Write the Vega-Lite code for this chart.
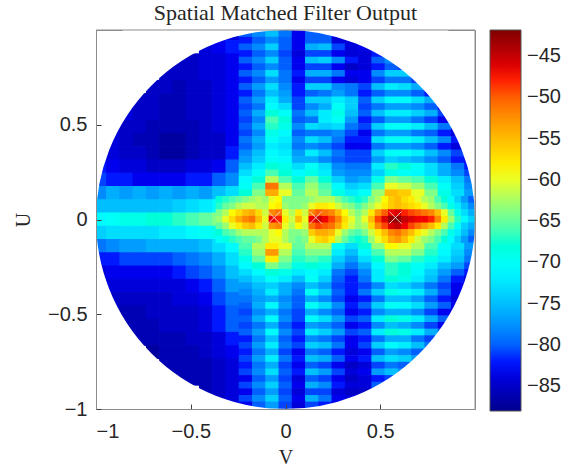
{"$schema":"https://vega.github.io/schema/vega-lite/v6.json","autosize":"none","width":379,"height":379,"padding":{"left":96,"top":30,"right":101,"bottom":59},"background":"white",
"title":{"text":"Spatial Matched Filter Output","font":"Liberation Serif","fontSize":22,"fontWeight":"normal","color":"#262626","offset":5,"anchor":"middle"},
"config":{"view":{"stroke":"#8c8c8c","strokeWidth":1}},
"datasets":{
"coarse":[
{"v":-0.28,"u":0.98,"z":-84},
{"v":-0.42,"u":0.91,"z":-84},{"v":-0.35,"u":0.91,"z":-83},{"v":-0.28,"u":0.91,"z":-82},
{"v":-0.56,"u":0.84,"z":-85},{"v":-0.49,"u":0.84,"z":-85},{"v":-0.42,"u":0.84,"z":-84},{"v":-0.35,"u":0.84,"z":-84},{"v":-0.28,"u":0.84,"z":-83},
{"v":-0.63,"u":0.77,"z":-85},{"v":-0.56,"u":0.77,"z":-85},{"v":-0.49,"u":0.77,"z":-85},{"v":-0.42,"u":0.77,"z":-84},{"v":-0.35,"u":0.77,"z":-84},{"v":-0.28,"u":0.77,"z":-83},
{"v":-0.70,"u":0.70,"z":-85},{"v":-0.63,"u":0.70,"z":-85},{"v":-0.56,"u":0.70,"z":-86},{"v":-0.49,"u":0.70,"z":-85},{"v":-0.42,"u":0.70,"z":-85},{"v":-0.35,"u":0.70,"z":-84},{"v":-0.28,"u":0.70,"z":-83},
{"v":-0.77,"u":0.63,"z":-85},{"v":-0.70,"u":0.63,"z":-85},{"v":-0.63,"u":0.63,"z":-86},{"v":-0.56,"u":0.63,"z":-86},{"v":-0.49,"u":0.63,"z":-85},{"v":-0.42,"u":0.63,"z":-85},{"v":-0.35,"u":0.63,"z":-84},{"v":-0.28,"u":0.63,"z":-83},
{"v":-0.84,"u":0.56,"z":-84},{"v":-0.77,"u":0.56,"z":-85},{"v":-0.70,"u":0.56,"z":-85},{"v":-0.63,"u":0.56,"z":-86},{"v":-0.56,"u":0.56,"z":-86},{"v":-0.49,"u":0.56,"z":-85},{"v":-0.42,"u":0.56,"z":-85},{"v":-0.35,"u":0.56,"z":-84},{"v":-0.28,"u":0.56,"z":-83},
{"v":-0.91,"u":0.49,"z":-84},{"v":-0.84,"u":0.49,"z":-85},{"v":-0.77,"u":0.49,"z":-85},{"v":-0.70,"u":0.49,"z":-86},{"v":-0.63,"u":0.49,"z":-86},{"v":-0.56,"u":0.49,"z":-86},{"v":-0.49,"u":0.49,"z":-86},{"v":-0.42,"u":0.49,"z":-85},{"v":-0.35,"u":0.49,"z":-84},{"v":-0.28,"u":0.49,"z":-83},
{"v":-0.91,"u":0.42,"z":-84},{"v":-0.84,"u":0.42,"z":-85},{"v":-0.77,"u":0.42,"z":-86},{"v":-0.70,"u":0.42,"z":-86},{"v":-0.63,"u":0.42,"z":-87},{"v":-0.56,"u":0.42,"z":-87},{"v":-0.49,"u":0.42,"z":-86},{"v":-0.42,"u":0.42,"z":-85},{"v":-0.35,"u":0.42,"z":-85},{"v":-0.28,"u":0.42,"z":-83},
{"v":-0.91,"u":0.35,"z":-84},{"v":-0.84,"u":0.35,"z":-85},{"v":-0.77,"u":0.35,"z":-85},{"v":-0.70,"u":0.35,"z":-86},{"v":-0.63,"u":0.35,"z":-87},{"v":-0.56,"u":0.35,"z":-87},{"v":-0.49,"u":0.35,"z":-86},{"v":-0.42,"u":0.35,"z":-85},{"v":-0.35,"u":0.35,"z":-85},{"v":-0.28,"u":0.35,"z":-82},
{"v":-0.98,"u":0.28,"z":-82},{"v":-0.91,"u":0.28,"z":-83},{"v":-0.84,"u":0.28,"z":-84},{"v":-0.77,"u":0.28,"z":-84},{"v":-0.70,"u":0.28,"z":-85},{"v":-0.63,"u":0.28,"z":-85},{"v":-0.56,"u":0.28,"z":-85},{"v":-0.49,"u":0.28,"z":-84},{"v":-0.42,"u":0.28,"z":-84},{"v":-0.35,"u":0.28,"z":-83},{"v":-0.28,"u":0.28,"z":-80},
{"v":-0.98,"u":0.21,"z":-81},{"v":-0.91,"u":0.21,"z":-82},{"v":-0.84,"u":0.21,"z":-82},{"v":-0.77,"u":0.21,"z":-83},{"v":-0.70,"u":0.21,"z":-83},{"v":-0.63,"u":0.21,"z":-83},{"v":-0.56,"u":0.21,"z":-83},{"v":-0.49,"u":0.21,"z":-82},{"v":-0.42,"u":0.21,"z":-82},{"v":-0.35,"u":0.21,"z":-80},{"v":-0.28,"u":0.21,"z":-78},
{"v":-0.98,"u":0.14,"z":-78},{"v":-0.91,"u":0.14,"z":-76},{"v":-0.84,"u":0.14,"z":-77},{"v":-0.77,"u":0.14,"z":-76},{"v":-0.70,"u":0.14,"z":-77},{"v":-0.63,"u":0.14,"z":-76},{"v":-0.56,"u":0.14,"z":-77},{"v":-0.49,"u":0.14,"z":-76},{"v":-0.42,"u":0.14,"z":-77},{"v":-0.35,"u":0.14,"z":-75},{"v":-0.28,"u":0.14,"z":-73},
{"v":-0.98,"u":0.07,"z":-75},{"v":-0.91,"u":0.07,"z":-75},{"v":-0.84,"u":0.07,"z":-75},{"v":-0.77,"u":0.07,"z":-75},{"v":-0.70,"u":0.07,"z":-75},{"v":-0.63,"u":0.07,"z":-75},{"v":-0.56,"u":0.07,"z":-74},{"v":-0.49,"u":0.07,"z":-73},{"v":-0.42,"u":0.07,"z":-72},{"v":-0.35,"u":0.07,"z":-71},{"v":-0.28,"u":0.07,"z":-69},
{"v":-0.98,"u":0,"z":-71},{"v":-0.91,"u":0,"z":-70},{"v":-0.84,"u":0,"z":-69},{"v":-0.77,"u":0,"z":-69},{"v":-0.70,"u":0,"z":-68},{"v":-0.63,"u":0,"z":-68},{"v":-0.56,"u":0,"z":-67},{"v":-0.49,"u":0,"z":-66},{"v":-0.42,"u":0,"z":-65},{"v":-0.35,"u":0,"z":-64},{"v":-0.28,"u":0,"z":-63},
{"v":-0.98,"u":-0.07,"z":-74},{"v":-0.91,"u":-0.07,"z":-73},{"v":-0.84,"u":-0.07,"z":-73},{"v":-0.77,"u":-0.07,"z":-73},{"v":-0.70,"u":-0.07,"z":-73},{"v":-0.63,"u":-0.07,"z":-72},{"v":-0.56,"u":-0.07,"z":-72},{"v":-0.49,"u":-0.07,"z":-71},{"v":-0.42,"u":-0.07,"z":-70},{"v":-0.35,"u":-0.07,"z":-69},{"v":-0.28,"u":-0.07,"z":-67},
{"v":-0.98,"u":-0.14,"z":-79},{"v":-0.91,"u":-0.14,"z":-78},{"v":-0.84,"u":-0.14,"z":-77},{"v":-0.77,"u":-0.14,"z":-77},{"v":-0.70,"u":-0.14,"z":-76},{"v":-0.63,"u":-0.14,"z":-76},{"v":-0.56,"u":-0.14,"z":-76},{"v":-0.49,"u":-0.14,"z":-76},{"v":-0.42,"u":-0.14,"z":-75},{"v":-0.35,"u":-0.14,"z":-73},{"v":-0.28,"u":-0.14,"z":-71},
{"v":-0.98,"u":-0.21,"z":-82},{"v":-0.91,"u":-0.21,"z":-82},{"v":-0.84,"u":-0.21,"z":-81},{"v":-0.77,"u":-0.21,"z":-81},{"v":-0.70,"u":-0.21,"z":-81},{"v":-0.63,"u":-0.21,"z":-81},{"v":-0.56,"u":-0.21,"z":-80},{"v":-0.49,"u":-0.21,"z":-79},{"v":-0.42,"u":-0.21,"z":-78},{"v":-0.35,"u":-0.21,"z":-76},{"v":-0.28,"u":-0.21,"z":-73},
{"v":-0.98,"u":-0.28,"z":-84},{"v":-0.91,"u":-0.28,"z":-83},{"v":-0.84,"u":-0.28,"z":-83},{"v":-0.77,"u":-0.28,"z":-83},{"v":-0.70,"u":-0.28,"z":-83},{"v":-0.63,"u":-0.28,"z":-83},{"v":-0.56,"u":-0.28,"z":-82},{"v":-0.49,"u":-0.28,"z":-81},{"v":-0.42,"u":-0.28,"z":-80},{"v":-0.35,"u":-0.28,"z":-78},{"v":-0.28,"u":-0.28,"z":-75},
{"v":-0.91,"u":-0.35,"z":-84},{"v":-0.84,"u":-0.35,"z":-84},{"v":-0.77,"u":-0.35,"z":-84},{"v":-0.70,"u":-0.35,"z":-84},{"v":-0.63,"u":-0.35,"z":-84},{"v":-0.56,"u":-0.35,"z":-84},{"v":-0.49,"u":-0.35,"z":-83},{"v":-0.42,"u":-0.35,"z":-82},{"v":-0.35,"u":-0.35,"z":-80},{"v":-0.28,"u":-0.35,"z":-77},
{"v":-0.91,"u":-0.42,"z":-85},{"v":-0.84,"u":-0.42,"z":-85},{"v":-0.77,"u":-0.42,"z":-85},{"v":-0.70,"u":-0.42,"z":-85},{"v":-0.63,"u":-0.42,"z":-85},{"v":-0.56,"u":-0.42,"z":-84},{"v":-0.49,"u":-0.42,"z":-84},{"v":-0.42,"u":-0.42,"z":-83},{"v":-0.35,"u":-0.42,"z":-81},{"v":-0.28,"u":-0.42,"z":-79},
{"v":-0.91,"u":-0.49,"z":-85},{"v":-0.84,"u":-0.49,"z":-86},{"v":-0.77,"u":-0.49,"z":-86},{"v":-0.70,"u":-0.49,"z":-85},{"v":-0.63,"u":-0.49,"z":-85},{"v":-0.56,"u":-0.49,"z":-85},{"v":-0.49,"u":-0.49,"z":-85},{"v":-0.42,"u":-0.49,"z":-84},{"v":-0.35,"u":-0.49,"z":-82},{"v":-0.28,"u":-0.49,"z":-80},
{"v":-0.84,"u":-0.56,"z":-86},{"v":-0.77,"u":-0.56,"z":-86},{"v":-0.70,"u":-0.56,"z":-86},{"v":-0.63,"u":-0.56,"z":-85},{"v":-0.56,"u":-0.56,"z":-85},{"v":-0.49,"u":-0.56,"z":-85},{"v":-0.42,"u":-0.56,"z":-84},{"v":-0.35,"u":-0.56,"z":-82},{"v":-0.28,"u":-0.56,"z":-80},
{"v":-0.77,"u":-0.63,"z":-86},{"v":-0.70,"u":-0.63,"z":-86},{"v":-0.63,"u":-0.63,"z":-86},{"v":-0.56,"u":-0.63,"z":-86},{"v":-0.49,"u":-0.63,"z":-85},{"v":-0.42,"u":-0.63,"z":-85},{"v":-0.35,"u":-0.63,"z":-84},{"v":-0.28,"u":-0.63,"z":-82},
{"v":-0.70,"u":-0.70,"z":-87},{"v":-0.63,"u":-0.70,"z":-86},{"v":-0.56,"u":-0.70,"z":-86},{"v":-0.49,"u":-0.70,"z":-86},{"v":-0.42,"u":-0.70,"z":-85},{"v":-0.35,"u":-0.70,"z":-84},{"v":-0.28,"u":-0.70,"z":-83},
{"v":-0.63,"u":-0.77,"z":-86},{"v":-0.56,"u":-0.77,"z":-86},{"v":-0.49,"u":-0.77,"z":-86},{"v":-0.42,"u":-0.77,"z":-86},{"v":-0.35,"u":-0.77,"z":-85},{"v":-0.28,"u":-0.77,"z":-84},
{"v":-0.56,"u":-0.84,"z":-86},{"v":-0.49,"u":-0.84,"z":-86},{"v":-0.42,"u":-0.84,"z":-86},{"v":-0.35,"u":-0.84,"z":-85},{"v":-0.28,"u":-0.84,"z":-84},
{"v":-0.42,"u":-0.91,"z":-86},{"v":-0.35,"u":-0.91,"z":-85},{"v":-0.28,"u":-0.91,"z":-84},
{"v":-0.28,"u":-0.98,"z":-84}
],
"striped":[
{"v":-0.21,"u":0.98,"z":-80},{"v":-0.14,"u":0.98,"z":-78},{"v":-0.07,"u":0.98,"z":-75},{"v":0,"u":0.98,"z":-79},{"v":0.07,"u":0.98,"z":-83},{"v":0.14,"u":0.98,"z":-80},{"v":0.21,"u":0.98,"z":-80},{"v":0.28,"u":0.98,"z":-83},
{"v":-0.21,"u":0.945,"z":-82},{"v":-0.14,"u":0.945,"z":-80},{"v":-0.07,"u":0.945,"z":-78},{"v":0,"u":0.945,"z":-80},{"v":0.07,"u":0.945,"z":-83},{"v":0.14,"u":0.945,"z":-80},{"v":0.21,"u":0.945,"z":-80},{"v":0.28,"u":0.945,"z":-84},{"v":0.35,"u":0.945,"z":-84},
{"v":-0.21,"u":0.91,"z":-80},{"v":-0.14,"u":0.91,"z":-78},{"v":-0.07,"u":0.91,"z":-74},{"v":0,"u":0.91,"z":-80},{"v":0.07,"u":0.91,"z":-83},{"v":0.14,"u":0.91,"z":-76},{"v":0.21,"u":0.91,"z":-75},{"v":0.28,"u":0.91,"z":-81},{"v":0.35,"u":0.91,"z":-84},{"v":0.42,"u":0.91,"z":-83},
{"v":-0.21,"u":0.875,"z":-82},{"v":-0.14,"u":0.875,"z":-80},{"v":-0.07,"u":0.875,"z":-78},{"v":0,"u":0.875,"z":-81},{"v":0.07,"u":0.875,"z":-84},{"v":0.14,"u":0.875,"z":-81},{"v":0.21,"u":0.875,"z":-81},{"v":0.28,"u":0.875,"z":-83},{"v":0.35,"u":0.875,"z":-84},{"v":0.42,"u":0.875,"z":-84},{"v":0.49,"u":0.875,"z":-82},
{"v":-0.21,"u":0.84,"z":-80},{"v":-0.14,"u":0.84,"z":-78},{"v":-0.07,"u":0.84,"z":-74},{"v":0,"u":0.84,"z":-80},{"v":0.07,"u":0.84,"z":-83},{"v":0.14,"u":0.84,"z":-75},{"v":0.21,"u":0.84,"z":-74},{"v":0.28,"u":0.84,"z":-78},{"v":0.35,"u":0.84,"z":-82},{"v":0.42,"u":0.84,"z":-84},{"v":0.49,"u":0.84,"z":-80},{"v":0.56,"u":0.84,"z":-78},
{"v":-0.21,"u":0.805,"z":-82},{"v":-0.14,"u":0.805,"z":-80},{"v":-0.07,"u":0.805,"z":-78},{"v":0,"u":0.805,"z":-80},{"v":0.07,"u":0.805,"z":-83},{"v":0.14,"u":0.805,"z":-81},{"v":0.21,"u":0.805,"z":-81},{"v":0.28,"u":0.805,"z":-83},{"v":0.35,"u":0.805,"z":-85},{"v":0.42,"u":0.805,"z":-84},{"v":0.49,"u":0.805,"z":-82},{"v":0.56,"u":0.805,"z":-80},{"v":0.63,"u":0.805,"z":-81},
{"v":-0.21,"u":0.77,"z":-80},{"v":-0.14,"u":0.77,"z":-78},{"v":-0.07,"u":0.77,"z":-73},{"v":0,"u":0.77,"z":-79},{"v":0.07,"u":0.77,"z":-82},{"v":0.14,"u":0.77,"z":-76},{"v":0.21,"u":0.77,"z":-76},{"v":0.28,"u":0.77,"z":-79},{"v":0.35,"u":0.77,"z":-83},{"v":0.42,"u":0.77,"z":-83},{"v":0.49,"u":0.77,"z":-78},{"v":0.56,"u":0.77,"z":-74},{"v":0.63,"u":0.77,"z":-74},
{"v":-0.21,"u":0.735,"z":-82},{"v":-0.14,"u":0.735,"z":-80},{"v":-0.07,"u":0.735,"z":-77},{"v":0,"u":0.735,"z":-79},{"v":0.07,"u":0.735,"z":-83},{"v":0.14,"u":0.735,"z":-81},{"v":0.21,"u":0.735,"z":-81},{"v":0.28,"u":0.735,"z":-83},{"v":0.35,"u":0.735,"z":-84},{"v":0.42,"u":0.735,"z":-83},{"v":0.49,"u":0.735,"z":-81},{"v":0.56,"u":0.735,"z":-79},{"v":0.63,"u":0.735,"z":-79},{"v":0.70,"u":0.735,"z":-81},
{"v":-0.21,"u":0.70,"z":-80},{"v":-0.14,"u":0.70,"z":-77},{"v":-0.07,"u":0.70,"z":-73},{"v":0,"u":0.70,"z":-78},{"v":0.07,"u":0.70,"z":-82},{"v":0.14,"u":0.70,"z":-74},{"v":0.21,"u":0.70,"z":-74},{"v":0.28,"u":0.70,"z":-78},{"v":0.35,"u":0.70,"z":-79},{"v":0.42,"u":0.70,"z":-81},{"v":0.49,"u":0.70,"z":-75},{"v":0.56,"u":0.70,"z":-72},{"v":0.63,"u":0.70,"z":-73},{"v":0.70,"u":0.70,"z":-76},
{"v":-0.21,"u":0.665,"z":-82},{"v":-0.14,"u":0.665,"z":-79},{"v":-0.07,"u":0.665,"z":-75},{"v":0,"u":0.665,"z":-77},{"v":0.07,"u":0.665,"z":-82},{"v":0.14,"u":0.665,"z":-80},{"v":0.21,"u":0.665,"z":-79},{"v":0.28,"u":0.665,"z":-77},{"v":0.35,"u":0.665,"z":-79},{"v":0.42,"u":0.665,"z":-82},{"v":0.49,"u":0.665,"z":-80},{"v":0.56,"u":0.665,"z":-78},{"v":0.63,"u":0.665,"z":-78},{"v":0.70,"u":0.665,"z":-80},{"v":0.77,"u":0.665,"z":-82},
{"v":-0.21,"u":0.63,"z":-80},{"v":-0.14,"u":0.63,"z":-77},{"v":-0.07,"u":0.63,"z":-72},{"v":0,"u":0.63,"z":-76},{"v":0.07,"u":0.63,"z":-81},{"v":0.14,"u":0.63,"z":-74},{"v":0.21,"u":0.63,"z":-74},{"v":0.28,"u":0.63,"z":-72},{"v":0.35,"u":0.63,"z":-74},{"v":0.42,"u":0.63,"z":-80},{"v":0.49,"u":0.63,"z":-74},{"v":0.56,"u":0.63,"z":-71},{"v":0.63,"u":0.63,"z":-71},{"v":0.70,"u":0.63,"z":-73},{"v":0.77,"u":0.63,"z":-76},
{"v":-0.21,"u":0.595,"z":-81},{"v":-0.14,"u":0.595,"z":-79},{"v":-0.07,"u":0.595,"z":-71},{"v":0,"u":0.595,"z":-73},{"v":0.07,"u":0.595,"z":-81},{"v":0.14,"u":0.595,"z":-78},{"v":0.21,"u":0.595,"z":-76},{"v":0.28,"u":0.595,"z":-70},{"v":0.35,"u":0.595,"z":-74},{"v":0.42,"u":0.595,"z":-81},{"v":0.49,"u":0.595,"z":-79},{"v":0.56,"u":0.595,"z":-77},{"v":0.63,"u":0.595,"z":-77},{"v":0.70,"u":0.595,"z":-78},{"v":0.77,"u":0.595,"z":-80},{"v":0.84,"u":0.595,"z":-82},
{"v":-0.21,"u":0.56,"z":-80},{"v":-0.14,"u":0.56,"z":-76},{"v":-0.07,"u":0.56,"z":-68},{"v":0,"u":0.56,"z":-70},{"v":0.07,"u":0.56,"z":-79},{"v":0.14,"u":0.56,"z":-75},{"v":0.21,"u":0.56,"z":-72},{"v":0.28,"u":0.56,"z":-69},{"v":0.35,"u":0.56,"z":-75},{"v":0.42,"u":0.56,"z":-80},{"v":0.49,"u":0.56,"z":-75},{"v":0.56,"u":0.56,"z":-72},{"v":0.63,"u":0.56,"z":-72},{"v":0.70,"u":0.56,"z":-74},{"v":0.77,"u":0.56,"z":-76},{"v":0.84,"u":0.56,"z":-81},
{"v":-0.21,"u":0.525,"z":-81},{"v":-0.14,"u":0.525,"z":-78},{"v":-0.07,"u":0.525,"z":-66},{"v":0,"u":0.525,"z":-68},{"v":0.07,"u":0.525,"z":-80},{"v":0.14,"u":0.525,"z":-79},{"v":0.21,"u":0.525,"z":-72},{"v":0.28,"u":0.525,"z":-70},{"v":0.35,"u":0.525,"z":-77},{"v":0.42,"u":0.525,"z":-82},{"v":0.49,"u":0.525,"z":-80},{"v":0.56,"u":0.525,"z":-77},{"v":0.63,"u":0.525,"z":-77},{"v":0.70,"u":0.525,"z":-79},{"v":0.77,"u":0.525,"z":-81},{"v":0.84,"u":0.525,"z":-83},
{"v":-0.21,"u":0.49,"z":-80},{"v":-0.14,"u":0.49,"z":-76},{"v":-0.07,"u":0.49,"z":-67},{"v":0,"u":0.49,"z":-69},{"v":0.07,"u":0.49,"z":-78},{"v":0.14,"u":0.49,"z":-73},{"v":0.21,"u":0.49,"z":-74},{"v":0.28,"u":0.49,"z":-73},{"v":0.35,"u":0.49,"z":-79},{"v":0.42,"u":0.49,"z":-81},{"v":0.49,"u":0.49,"z":-74},{"v":0.56,"u":0.49,"z":-70},{"v":0.63,"u":0.49,"z":-70},{"v":0.70,"u":0.49,"z":-72},{"v":0.77,"u":0.49,"z":-75},{"v":0.84,"u":0.49,"z":-79},{"v":0.91,"u":0.49,"z":-83},
{"v":-0.21,"u":0.455,"z":-81},{"v":-0.14,"u":0.455,"z":-78},{"v":-0.07,"u":0.455,"z":-69},{"v":0,"u":0.455,"z":-71},{"v":0.07,"u":0.455,"z":-80},{"v":0.14,"u":0.455,"z":-79},{"v":0.21,"u":0.455,"z":-79},{"v":0.28,"u":0.455,"z":-78},{"v":0.35,"u":0.455,"z":-81},{"v":0.42,"u":0.455,"z":-83},{"v":0.49,"u":0.455,"z":-79},{"v":0.56,"u":0.455,"z":-77},{"v":0.63,"u":0.455,"z":-77},{"v":0.70,"u":0.455,"z":-79},{"v":0.77,"u":0.455,"z":-80},{"v":0.84,"u":0.455,"z":-82},{"v":0.91,"u":0.455,"z":-84},
{"v":-0.21,"u":0.42,"z":-79},{"v":-0.14,"u":0.42,"z":-76},{"v":-0.07,"u":0.42,"z":-70},{"v":0,"u":0.42,"z":-72},{"v":0.07,"u":0.42,"z":-78},{"v":0.14,"u":0.42,"z":-73},{"v":0.21,"u":0.42,"z":-75},{"v":0.28,"u":0.42,"z":-79},{"v":0.35,"u":0.42,"z":-82},{"v":0.42,"u":0.42,"z":-82},{"v":0.49,"u":0.42,"z":-73},{"v":0.56,"u":0.42,"z":-70},{"v":0.63,"u":0.42,"z":-70},{"v":0.70,"u":0.42,"z":-72},{"v":0.77,"u":0.42,"z":-75},{"v":0.84,"u":0.42,"z":-78},{"v":0.91,"u":0.42,"z":-82},
{"v":-0.21,"u":0.385,"z":-80},{"v":-0.14,"u":0.385,"z":-77},{"v":-0.07,"u":0.385,"z":-72},{"v":0,"u":0.385,"z":-73},{"v":0.07,"u":0.385,"z":-79},{"v":0.14,"u":0.385,"z":-78},{"v":0.21,"u":0.385,"z":-79},{"v":0.28,"u":0.385,"z":-81},{"v":0.35,"u":0.385,"z":-83},{"v":0.42,"u":0.385,"z":-83},{"v":0.49,"u":0.385,"z":-79},{"v":0.56,"u":0.385,"z":-77},{"v":0.63,"u":0.385,"z":-77},{"v":0.70,"u":0.385,"z":-78},{"v":0.77,"u":0.385,"z":-80},{"v":0.84,"u":0.385,"z":-82},{"v":0.91,"u":0.385,"z":-84},
{"v":-0.21,"u":0.35,"z":-78},{"v":-0.14,"u":0.35,"z":-75},{"v":-0.07,"u":0.35,"z":-71},{"v":0,"u":0.35,"z":-72},{"v":0.07,"u":0.35,"z":-77},{"v":0.14,"u":0.35,"z":-72},{"v":0.21,"u":0.35,"z":-75},{"v":0.28,"u":0.35,"z":-79},{"v":0.35,"u":0.35,"z":-81},{"v":0.42,"u":0.35,"z":-81},{"v":0.49,"u":0.35,"z":-74},{"v":0.56,"u":0.35,"z":-70},{"v":0.63,"u":0.35,"z":-70},{"v":0.70,"u":0.35,"z":-72},{"v":0.77,"u":0.35,"z":-75},{"v":0.84,"u":0.35,"z":-78},{"v":0.91,"u":0.35,"z":-81},
{"v":-0.21,"u":0.315,"z":-77},{"v":-0.14,"u":0.315,"z":-74},{"v":-0.07,"u":0.315,"z":-70},{"v":0,"u":0.315,"z":-71},{"v":0.07,"u":0.315,"z":-76},{"v":0.14,"u":0.315,"z":-76},{"v":0.21,"u":0.315,"z":-78},{"v":0.28,"u":0.315,"z":-80},{"v":0.35,"u":0.315,"z":-81},{"v":0.42,"u":0.315,"z":-81},{"v":0.49,"u":0.315,"z":-77},{"v":0.56,"u":0.315,"z":-74},{"v":0.63,"u":0.315,"z":-75},{"v":0.70,"u":0.315,"z":-76},{"v":0.77,"u":0.315,"z":-78},{"v":0.84,"u":0.315,"z":-80},{"v":0.91,"u":0.315,"z":-82},{"v":0.98,"u":0.315,"z":-83},
{"v":-0.21,"u":0.28,"z":-75},{"v":-0.14,"u":0.28,"z":-72},{"v":-0.07,"u":0.28,"z":-68},{"v":0,"u":0.28,"z":-69},{"v":0.07,"u":0.28,"z":-73},{"v":0.14,"u":0.28,"z":-70},{"v":0.21,"u":0.28,"z":-73},{"v":0.28,"u":0.28,"z":-78},{"v":0.35,"u":0.28,"z":-79},{"v":0.42,"u":0.28,"z":-79},{"v":0.49,"u":0.28,"z":-72},{"v":0.56,"u":0.28,"z":-67},{"v":0.63,"u":0.28,"z":-68},{"v":0.70,"u":0.28,"z":-70},{"v":0.77,"u":0.28,"z":-73},{"v":0.84,"u":0.28,"z":-76},{"v":0.91,"u":0.28,"z":-79},{"v":0.98,"u":0.28,"z":-82},
{"v":-0.21,"u":0.245,"z":-73},{"v":-0.14,"u":0.245,"z":-70},{"v":-0.07,"u":0.245,"z":-66},{"v":0,"u":0.245,"z":-68},{"v":0.07,"u":0.245,"z":-71},{"v":0.14,"u":0.245,"z":-69},{"v":0.21,"u":0.245,"z":-72},{"v":0.28,"u":0.245,"z":-77},{"v":0.35,"u":0.245,"z":-78},{"v":0.42,"u":0.245,"z":-78},{"v":0.49,"u":0.245,"z":-74},{"v":0.56,"u":0.245,"z":-69},{"v":0.63,"u":0.245,"z":-70},{"v":0.70,"u":0.245,"z":-71},{"v":0.77,"u":0.245,"z":-73},{"v":0.84,"u":0.245,"z":-76},{"v":0.91,"u":0.245,"z":-78},{"v":0.98,"u":0.245,"z":-81},
{"v":-0.21,"u":0.21,"z":-71},{"v":-0.14,"u":0.21,"z":-68},{"v":-0.07,"u":0.21,"z":-62},{"v":0,"u":0.21,"z":-66},{"v":0.07,"u":0.21,"z":-68},{"v":0.14,"u":0.21,"z":-65},{"v":0.21,"u":0.21,"z":-68},{"v":0.28,"u":0.21,"z":-74},{"v":0.35,"u":0.21,"z":-77},{"v":0.42,"u":0.21,"z":-76},{"v":0.49,"u":0.21,"z":-69},{"v":0.56,"u":0.21,"z":-64},{"v":0.63,"u":0.21,"z":-65},{"v":0.70,"u":0.21,"z":-66},{"v":0.77,"u":0.21,"z":-68},{"v":0.84,"u":0.21,"z":-72},{"v":0.91,"u":0.21,"z":-75},{"v":0.98,"u":0.21,"z":-79},
{"v":-0.21,"u":0.175,"z":-70},{"v":-0.14,"u":0.175,"z":-66},{"v":-0.07,"u":0.175,"z":-51},{"v":0,"u":0.175,"z":-62},{"v":0.07,"u":0.175,"z":-66},{"v":0.14,"u":0.175,"z":-63},{"v":0.21,"u":0.175,"z":-66},{"v":0.28,"u":0.175,"z":-71},{"v":0.35,"u":0.175,"z":-74},{"v":0.42,"u":0.175,"z":-73},{"v":0.49,"u":0.175,"z":-66},{"v":0.56,"u":0.175,"z":-60},{"v":0.63,"u":0.175,"z":-61},{"v":0.70,"u":0.175,"z":-63},{"v":0.77,"u":0.175,"z":-66},{"v":0.84,"u":0.175,"z":-70},{"v":0.91,"u":0.175,"z":-74},{"v":0.98,"u":0.175,"z":-78},
{"v":-0.21,"u":0.14,"z":-68},{"v":-0.14,"u":0.14,"z":-64},{"v":-0.07,"u":0.14,"z":-54},{"v":0,"u":0.14,"z":-60},{"v":0.07,"u":0.14,"z":-65},{"v":0.14,"u":0.14,"z":-62},{"v":0.21,"u":0.14,"z":-65},{"v":0.28,"u":0.14,"z":-69},{"v":0.35,"u":0.14,"z":-72},{"v":0.42,"u":0.14,"z":-70},{"v":0.49,"u":0.14,"z":-63},{"v":0.56,"u":0.14,"z":-55},{"v":0.63,"u":0.14,"z":-56},{"v":0.70,"u":0.14,"z":-60},{"v":0.77,"u":0.14,"z":-64},{"v":0.84,"u":0.14,"z":-69},{"v":0.91,"u":0.14,"z":-73},{"v":0.98,"u":0.14,"z":-77},
{"v":0.98,"u":0.105,"z":-80},{"v":0.98,"u":0.07,"z":-78},{"v":0.98,"u":0.035,"z":-76},{"v":0.98,"u":0,"z":-74},{"v":0.98,"u":-0.035,"z":-76},{"v":0.98,"u":-0.07,"z":-78},{"v":0.98,"u":-0.105,"z":-80},
{"v":-0.21,"u":-0.14,"z":-66},{"v":-0.14,"u":-0.14,"z":-62},{"v":-0.07,"u":-0.14,"z":-58},{"v":0,"u":-0.14,"z":-60},{"v":0.07,"u":-0.14,"z":-65},{"v":0.14,"u":-0.14,"z":-62},{"v":0.21,"u":-0.14,"z":-62},{"v":0.28,"u":-0.14,"z":-70},{"v":0.35,"u":-0.14,"z":-73},{"v":0.42,"u":-0.14,"z":-68},{"v":0.49,"u":-0.14,"z":-63},{"v":0.56,"u":-0.14,"z":-59},{"v":0.63,"u":-0.14,"z":-60},{"v":0.70,"u":-0.14,"z":-62},{"v":0.77,"u":-0.14,"z":-66},{"v":0.84,"u":-0.14,"z":-70},{"v":0.91,"u":-0.14,"z":-73},{"v":0.98,"u":-0.14,"z":-77},
{"v":-0.21,"u":-0.175,"z":-67},{"v":-0.14,"u":-0.175,"z":-63},{"v":-0.07,"u":-0.175,"z":-53},{"v":0,"u":-0.175,"z":-62},{"v":0.07,"u":-0.175,"z":-66},{"v":0.14,"u":-0.175,"z":-64},{"v":0.21,"u":-0.175,"z":-64},{"v":0.28,"u":-0.175,"z":-72},{"v":0.35,"u":-0.175,"z":-75},{"v":0.42,"u":-0.175,"z":-71},{"v":0.49,"u":-0.175,"z":-66},{"v":0.56,"u":-0.175,"z":-62},{"v":0.63,"u":-0.175,"z":-62},{"v":0.70,"u":-0.175,"z":-64},{"v":0.77,"u":-0.175,"z":-67},{"v":0.84,"u":-0.175,"z":-71},{"v":0.91,"u":-0.175,"z":-74},{"v":0.98,"u":-0.175,"z":-78},
{"v":-0.21,"u":-0.21,"z":-69},{"v":-0.14,"u":-0.21,"z":-65},{"v":-0.07,"u":-0.21,"z":-58},{"v":0,"u":-0.21,"z":-64},{"v":0.07,"u":-0.21,"z":-67},{"v":0.14,"u":-0.21,"z":-66},{"v":0.21,"u":-0.21,"z":-67},{"v":0.28,"u":-0.21,"z":-74},{"v":0.35,"u":-0.21,"z":-77},{"v":0.42,"u":-0.21,"z":-73},{"v":0.49,"u":-0.21,"z":-68},{"v":0.56,"u":-0.21,"z":-64},{"v":0.63,"u":-0.21,"z":-65},{"v":0.70,"u":-0.21,"z":-67},{"v":0.77,"u":-0.21,"z":-69},{"v":0.84,"u":-0.21,"z":-72},{"v":0.91,"u":-0.21,"z":-75},{"v":0.98,"u":-0.21,"z":-79},
{"v":-0.21,"u":-0.245,"z":-71},{"v":-0.14,"u":-0.245,"z":-68},{"v":-0.07,"u":-0.245,"z":-64},{"v":0,"u":-0.245,"z":-66},{"v":0.07,"u":-0.245,"z":-69},{"v":0.14,"u":-0.245,"z":-68},{"v":0.21,"u":-0.245,"z":-69},{"v":0.28,"u":-0.245,"z":-76},{"v":0.35,"u":-0.245,"z":-79},{"v":0.42,"u":-0.245,"z":-76},{"v":0.49,"u":-0.245,"z":-71},{"v":0.56,"u":-0.245,"z":-67},{"v":0.63,"u":-0.245,"z":-68},{"v":0.70,"u":-0.245,"z":-70},{"v":0.77,"u":-0.245,"z":-72},{"v":0.84,"u":-0.245,"z":-75},{"v":0.91,"u":-0.245,"z":-77},{"v":0.98,"u":-0.245,"z":-81},
{"v":-0.21,"u":-0.28,"z":-73},{"v":-0.14,"u":-0.28,"z":-71},{"v":-0.07,"u":-0.28,"z":-68},{"v":0,"u":-0.28,"z":-69},{"v":0.07,"u":-0.28,"z":-72},{"v":0.14,"u":-0.28,"z":-71},{"v":0.21,"u":-0.28,"z":-72},{"v":0.28,"u":-0.28,"z":-79},{"v":0.35,"u":-0.28,"z":-81},{"v":0.42,"u":-0.28,"z":-78},{"v":0.49,"u":-0.28,"z":-72},{"v":0.56,"u":-0.28,"z":-67},{"v":0.63,"u":-0.28,"z":-68},{"v":0.70,"u":-0.28,"z":-71},{"v":0.77,"u":-0.28,"z":-74},{"v":0.84,"u":-0.28,"z":-77},{"v":0.91,"u":-0.28,"z":-80},{"v":0.98,"u":-0.28,"z":-82},
{"v":-0.21,"u":-0.315,"z":-75},{"v":-0.14,"u":-0.315,"z":-73},{"v":-0.07,"u":-0.315,"z":-70},{"v":0,"u":-0.315,"z":-72},{"v":0.07,"u":-0.315,"z":-75},{"v":0.14,"u":-0.315,"z":-70},{"v":0.21,"u":-0.315,"z":-74},{"v":0.28,"u":-0.315,"z":-80},{"v":0.35,"u":-0.315,"z":-82},{"v":0.42,"u":-0.315,"z":-79},{"v":0.49,"u":-0.315,"z":-72},{"v":0.56,"u":-0.315,"z":-68},{"v":0.63,"u":-0.315,"z":-69},{"v":0.70,"u":-0.315,"z":-72},{"v":0.77,"u":-0.315,"z":-75},{"v":0.84,"u":-0.315,"z":-79},{"v":0.91,"u":-0.315,"z":-82},{"v":0.98,"u":-0.315,"z":-84},
{"v":-0.21,"u":-0.35,"z":-77},{"v":-0.14,"u":-0.35,"z":-75},{"v":-0.07,"u":-0.35,"z":-74},{"v":0,"u":-0.35,"z":-76},{"v":0.07,"u":-0.35,"z":-78},{"v":0.14,"u":-0.35,"z":-75},{"v":0.21,"u":-0.35,"z":-77},{"v":0.28,"u":-0.35,"z":-81},{"v":0.35,"u":-0.35,"z":-82},{"v":0.42,"u":-0.35,"z":-81},{"v":0.49,"u":-0.35,"z":-78},{"v":0.56,"u":-0.35,"z":-73},{"v":0.63,"u":-0.35,"z":-74},{"v":0.70,"u":-0.35,"z":-76},{"v":0.77,"u":-0.35,"z":-79},{"v":0.84,"u":-0.35,"z":-81},{"v":0.91,"u":-0.35,"z":-83},
{"v":-0.21,"u":-0.385,"z":-78},{"v":-0.14,"u":-0.385,"z":-76},{"v":-0.07,"u":-0.385,"z":-72},{"v":0,"u":-0.385,"z":-76},{"v":0.07,"u":-0.385,"z":-79},{"v":0.14,"u":-0.385,"z":-70},{"v":0.21,"u":-0.385,"z":-74},{"v":0.28,"u":-0.385,"z":-80},{"v":0.35,"u":-0.385,"z":-82},{"v":0.42,"u":-0.385,"z":-79},{"v":0.49,"u":-0.385,"z":-74},{"v":0.56,"u":-0.385,"z":-69},{"v":0.63,"u":-0.385,"z":-70},{"v":0.70,"u":-0.385,"z":-72},{"v":0.77,"u":-0.385,"z":-76},{"v":0.84,"u":-0.385,"z":-80},{"v":0.91,"u":-0.385,"z":-83},
{"v":-0.21,"u":-0.42,"z":-79},{"v":-0.14,"u":-0.42,"z":-77},{"v":-0.07,"u":-0.42,"z":-76},{"v":0,"u":-0.42,"z":-78},{"v":0.07,"u":-0.42,"z":-80},{"v":0.14,"u":-0.42,"z":-76},{"v":0.21,"u":-0.42,"z":-78},{"v":0.28,"u":-0.42,"z":-81},{"v":0.35,"u":-0.42,"z":-83},{"v":0.42,"u":-0.42,"z":-82},{"v":0.49,"u":-0.42,"z":-79},{"v":0.56,"u":-0.42,"z":-75},{"v":0.63,"u":-0.42,"z":-75},{"v":0.70,"u":-0.42,"z":-77},{"v":0.77,"u":-0.42,"z":-80},{"v":0.84,"u":-0.42,"z":-82},{"v":0.91,"u":-0.42,"z":-84},
{"v":-0.21,"u":-0.455,"z":-80},{"v":-0.14,"u":-0.455,"z":-76},{"v":-0.07,"u":-0.455,"z":-71},{"v":0,"u":-0.455,"z":-77},{"v":0.07,"u":-0.455,"z":-80},{"v":0.14,"u":-0.455,"z":-70},{"v":0.21,"u":-0.455,"z":-73},{"v":0.28,"u":-0.455,"z":-78},{"v":0.35,"u":-0.455,"z":-82},{"v":0.42,"u":-0.455,"z":-80},{"v":0.49,"u":-0.455,"z":-74},{"v":0.56,"u":-0.455,"z":-70},{"v":0.63,"u":-0.455,"z":-71},{"v":0.70,"u":-0.455,"z":-73},{"v":0.77,"u":-0.455,"z":-77},{"v":0.84,"u":-0.455,"z":-80},{"v":0.91,"u":-0.455,"z":-83},
{"v":-0.21,"u":-0.49,"z":-81},{"v":-0.14,"u":-0.49,"z":-78},{"v":-0.07,"u":-0.49,"z":-76},{"v":0,"u":-0.49,"z":-79},{"v":0.07,"u":-0.49,"z":-81},{"v":0.14,"u":-0.49,"z":-76},{"v":0.21,"u":-0.49,"z":-78},{"v":0.28,"u":-0.49,"z":-80},{"v":0.35,"u":-0.49,"z":-83},{"v":0.42,"u":-0.49,"z":-82},{"v":0.49,"u":-0.49,"z":-78},{"v":0.56,"u":-0.49,"z":-76},{"v":0.63,"u":-0.49,"z":-76},{"v":0.70,"u":-0.49,"z":-78},{"v":0.77,"u":-0.49,"z":-81},{"v":0.84,"u":-0.49,"z":-83},{"v":0.91,"u":-0.49,"z":-85},
{"v":-0.21,"u":-0.525,"z":-80},{"v":-0.14,"u":-0.525,"z":-76},{"v":-0.07,"u":-0.525,"z":-71},{"v":0,"u":-0.525,"z":-78},{"v":0.07,"u":-0.525,"z":-81},{"v":0.14,"u":-0.525,"z":-71},{"v":0.21,"u":-0.525,"z":-73},{"v":0.28,"u":-0.525,"z":-77},{"v":0.35,"u":-0.525,"z":-81},{"v":0.42,"u":-0.525,"z":-80},{"v":0.49,"u":-0.525,"z":-72},{"v":0.56,"u":-0.525,"z":-68},{"v":0.63,"u":-0.525,"z":-69},{"v":0.70,"u":-0.525,"z":-72},{"v":0.77,"u":-0.525,"z":-76},{"v":0.84,"u":-0.525,"z":-80},
{"v":-0.21,"u":-0.56,"z":-81},{"v":-0.14,"u":-0.56,"z":-79},{"v":-0.07,"u":-0.56,"z":-76},{"v":0,"u":-0.56,"z":-80},{"v":0.07,"u":-0.56,"z":-82},{"v":0.14,"u":-0.56,"z":-77},{"v":0.21,"u":-0.56,"z":-78},{"v":0.28,"u":-0.56,"z":-80},{"v":0.35,"u":-0.56,"z":-83},{"v":0.42,"u":-0.56,"z":-82},{"v":0.49,"u":-0.56,"z":-78},{"v":0.56,"u":-0.56,"z":-75},{"v":0.63,"u":-0.56,"z":-76},{"v":0.70,"u":-0.56,"z":-78},{"v":0.77,"u":-0.56,"z":-81},{"v":0.84,"u":-0.56,"z":-83},
{"v":-0.21,"u":-0.595,"z":-80},{"v":-0.14,"u":-0.595,"z":-77},{"v":-0.07,"u":-0.595,"z":-71},{"v":0,"u":-0.595,"z":-78},{"v":0.07,"u":-0.595,"z":-81},{"v":0.14,"u":-0.595,"z":-72},{"v":0.21,"u":-0.595,"z":-74},{"v":0.28,"u":-0.595,"z":-77},{"v":0.35,"u":-0.595,"z":-81},{"v":0.42,"u":-0.595,"z":-80},{"v":0.49,"u":-0.595,"z":-72},{"v":0.56,"u":-0.595,"z":-68},{"v":0.63,"u":-0.595,"z":-69},{"v":0.70,"u":-0.595,"z":-72},{"v":0.77,"u":-0.595,"z":-76},{"v":0.84,"u":-0.595,"z":-80},
{"v":-0.21,"u":-0.63,"z":-82},{"v":-0.14,"u":-0.63,"z":-79},{"v":-0.07,"u":-0.63,"z":-75},{"v":0,"u":-0.63,"z":-80},{"v":0.07,"u":-0.63,"z":-82},{"v":0.14,"u":-0.63,"z":-78},{"v":0.21,"u":-0.63,"z":-79},{"v":0.28,"u":-0.63,"z":-81},{"v":0.35,"u":-0.63,"z":-83},{"v":0.42,"u":-0.63,"z":-82},{"v":0.49,"u":-0.63,"z":-79},{"v":0.56,"u":-0.63,"z":-76},{"v":0.63,"u":-0.63,"z":-76},{"v":0.70,"u":-0.63,"z":-79},{"v":0.77,"u":-0.63,"z":-81},
{"v":-0.21,"u":-0.665,"z":-81},{"v":-0.14,"u":-0.665,"z":-77},{"v":-0.07,"u":-0.665,"z":-72},{"v":0,"u":-0.665,"z":-79},{"v":0.07,"u":-0.665,"z":-81},{"v":0.14,"u":-0.665,"z":-74},{"v":0.21,"u":-0.665,"z":-75},{"v":0.28,"u":-0.665,"z":-79},{"v":0.35,"u":-0.665,"z":-83},{"v":0.42,"u":-0.665,"z":-81},{"v":0.49,"u":-0.665,"z":-74},{"v":0.56,"u":-0.665,"z":-71},{"v":0.63,"u":-0.665,"z":-72},{"v":0.70,"u":-0.665,"z":-75},{"v":0.77,"u":-0.665,"z":-79},
{"v":-0.21,"u":-0.70,"z":-82},{"v":-0.14,"u":-0.70,"z":-79},{"v":-0.07,"u":-0.70,"z":-76},{"v":0,"u":-0.70,"z":-81},{"v":0.07,"u":-0.70,"z":-83},{"v":0.14,"u":-0.70,"z":-79},{"v":0.21,"u":-0.70,"z":-80},{"v":0.28,"u":-0.70,"z":-82},{"v":0.35,"u":-0.70,"z":-84},{"v":0.42,"u":-0.70,"z":-83},{"v":0.49,"u":-0.70,"z":-80},{"v":0.56,"u":-0.70,"z":-77},{"v":0.63,"u":-0.70,"z":-78},{"v":0.70,"u":-0.70,"z":-80},
{"v":-0.21,"u":-0.735,"z":-81},{"v":-0.14,"u":-0.735,"z":-77},{"v":-0.07,"u":-0.735,"z":-72},{"v":0,"u":-0.735,"z":-79},{"v":0.07,"u":-0.735,"z":-82},{"v":0.14,"u":-0.735,"z":-75},{"v":0.21,"u":-0.735,"z":-76},{"v":0.28,"u":-0.735,"z":-80},{"v":0.35,"u":-0.735,"z":-83},{"v":0.42,"u":-0.735,"z":-82},{"v":0.49,"u":-0.735,"z":-75},{"v":0.56,"u":-0.735,"z":-73},{"v":0.63,"u":-0.735,"z":-74},{"v":0.70,"u":-0.735,"z":-77},
{"v":-0.21,"u":-0.77,"z":-82},{"v":-0.14,"u":-0.77,"z":-79},{"v":-0.07,"u":-0.77,"z":-76},{"v":0,"u":-0.77,"z":-81},{"v":0.07,"u":-0.77,"z":-83},{"v":0.14,"u":-0.77,"z":-80},{"v":0.21,"u":-0.77,"z":-81},{"v":0.28,"u":-0.77,"z":-83},{"v":0.35,"u":-0.77,"z":-85},{"v":0.42,"u":-0.77,"z":-84},{"v":0.49,"u":-0.77,"z":-81},{"v":0.56,"u":-0.77,"z":-79},{"v":0.63,"u":-0.77,"z":-80},
{"v":-0.21,"u":-0.805,"z":-81},{"v":-0.14,"u":-0.805,"z":-78},{"v":-0.07,"u":-0.805,"z":-73},{"v":0,"u":-0.805,"z":-80},{"v":0.07,"u":-0.805,"z":-82},{"v":0.14,"u":-0.805,"z":-75},{"v":0.21,"u":-0.805,"z":-77},{"v":0.28,"u":-0.805,"z":-81},{"v":0.35,"u":-0.805,"z":-84},{"v":0.42,"u":-0.805,"z":-83},{"v":0.49,"u":-0.805,"z":-77},{"v":0.56,"u":-0.805,"z":-75},{"v":0.63,"u":-0.805,"z":-78},
{"v":-0.21,"u":-0.84,"z":-83},{"v":-0.14,"u":-0.84,"z":-80},{"v":-0.07,"u":-0.84,"z":-77},{"v":0,"u":-0.84,"z":-81},{"v":0.07,"u":-0.84,"z":-84},{"v":0.14,"u":-0.84,"z":-80},{"v":0.21,"u":-0.84,"z":-81},{"v":0.28,"u":-0.84,"z":-83},{"v":0.35,"u":-0.84,"z":-85},{"v":0.42,"u":-0.84,"z":-84},{"v":0.49,"u":-0.84,"z":-82},{"v":0.56,"u":-0.84,"z":-81},
{"v":-0.21,"u":-0.875,"z":-81},{"v":-0.14,"u":-0.875,"z":-78},{"v":-0.07,"u":-0.875,"z":-74},{"v":0,"u":-0.875,"z":-80},{"v":0.07,"u":-0.875,"z":-83},{"v":0.14,"u":-0.875,"z":-76},{"v":0.21,"u":-0.875,"z":-78},{"v":0.28,"u":-0.875,"z":-82},{"v":0.35,"u":-0.875,"z":-84},{"v":0.42,"u":-0.875,"z":-84},{"v":0.49,"u":-0.875,"z":-80},
{"v":-0.21,"u":-0.91,"z":-83},{"v":-0.14,"u":-0.91,"z":-80},{"v":-0.07,"u":-0.91,"z":-77},{"v":0,"u":-0.91,"z":-81},{"v":0.07,"u":-0.91,"z":-84},{"v":0.14,"u":-0.91,"z":-81},{"v":0.21,"u":-0.91,"z":-81},{"v":0.28,"u":-0.91,"z":-84},{"v":0.35,"u":-0.91,"z":-85},{"v":0.42,"u":-0.91,"z":-85},
{"v":-0.21,"u":-0.945,"z":-81},{"v":-0.14,"u":-0.945,"z":-78},{"v":-0.07,"u":-0.945,"z":-74},{"v":0,"u":-0.945,"z":-80},{"v":0.07,"u":-0.945,"z":-83},{"v":0.14,"u":-0.945,"z":-76},{"v":0.21,"u":-0.945,"z":-79},{"v":0.28,"u":-0.945,"z":-83},{"v":0.35,"u":-0.945,"z":-84},
{"v":-0.21,"u":-0.98,"z":-83},{"v":-0.14,"u":-0.98,"z":-80},{"v":-0.07,"u":-0.98,"z":-77},{"v":0,"u":-0.98,"z":-81},{"v":0.07,"u":-0.98,"z":-84},{"v":0.14,"u":-0.98,"z":-81},{"v":0.21,"u":-0.98,"z":-82},{"v":0.28,"u":-0.98,"z":-84}
],
"fine":[
{"v":-0.35,"u":0.105,"z":-68},{"v":-0.315,"u":0.105,"z":-67},{"v":-0.28,"u":0.105,"z":-66},{"v":-0.245,"u":0.105,"z":-65},{"v":-0.21,"u":0.105,"z":-64},{"v":-0.175,"u":0.105,"z":-63},{"v":-0.14,"u":0.105,"z":-62},{"v":-0.105,"u":0.105,"z":-63},{"v":-0.07,"u":0.105,"z":-60},{"v":-0.035,"u":0.105,"z":-59},{"v":0,"u":0.105,"z":-64},{"v":0.035,"u":0.105,"z":-64},{"v":0.07,"u":0.105,"z":-64},{"v":0.105,"u":0.105,"z":-64},{"v":0.14,"u":0.105,"z":-63},{"v":0.175,"u":0.105,"z":-62},{"v":0.21,"u":0.105,"z":-62},{"v":0.245,"u":0.105,"z":-62},{"v":0.28,"u":0.105,"z":-64},{"v":0.315,"u":0.105,"z":-66},{"v":0.35,"u":0.105,"z":-67},{"v":0.385,"u":0.105,"z":-68},{"v":0.42,"u":0.105,"z":-67},{"v":0.455,"u":0.105,"z":-64},{"v":0.49,"u":0.105,"z":-62},{"v":0.525,"u":0.105,"z":-59},{"v":0.56,"u":0.105,"z":-56},{"v":0.595,"u":0.105,"z":-55},{"v":0.63,"u":0.105,"z":-57},{"v":0.665,"u":0.105,"z":-58},{"v":0.70,"u":0.105,"z":-60},{"v":0.735,"u":0.105,"z":-62},{"v":0.77,"u":0.105,"z":-63},{"v":0.805,"u":0.105,"z":-66},{"v":0.84,"u":0.105,"z":-68},{"v":0.875,"u":0.105,"z":-71},{"v":0.91,"u":0.105,"z":-74},{"v":0.945,"u":0.105,"z":-77},
{"v":-0.35,"u":0.07,"z":-67},{"v":-0.315,"u":0.07,"z":-65},{"v":-0.28,"u":0.07,"z":-64},{"v":-0.245,"u":0.07,"z":-62},{"v":-0.21,"u":0.07,"z":-61},{"v":-0.175,"u":0.07,"z":-61},{"v":-0.14,"u":0.07,"z":-62},{"v":-0.105,"u":0.07,"z":-62},{"v":-0.07,"u":0.07,"z":-59},{"v":-0.035,"u":0.07,"z":-58},{"v":0,"u":0.07,"z":-63},{"v":0.035,"u":0.07,"z":-64},{"v":0.07,"u":0.07,"z":-64},{"v":0.105,"u":0.07,"z":-63},{"v":0.14,"u":0.07,"z":-60},{"v":0.175,"u":0.07,"z":-58},{"v":0.21,"u":0.07,"z":-58},{"v":0.245,"u":0.07,"z":-59},{"v":0.28,"u":0.07,"z":-61},{"v":0.315,"u":0.07,"z":-63},{"v":0.35,"u":0.07,"z":-64},{"v":0.385,"u":0.07,"z":-66},{"v":0.42,"u":0.07,"z":-64},{"v":0.455,"u":0.07,"z":-62},{"v":0.49,"u":0.07,"z":-60},{"v":0.525,"u":0.07,"z":-58},{"v":0.56,"u":0.07,"z":-56},{"v":0.595,"u":0.07,"z":-55},{"v":0.63,"u":0.07,"z":-56},{"v":0.665,"u":0.07,"z":-57},{"v":0.70,"u":0.07,"z":-58},{"v":0.735,"u":0.07,"z":-60},{"v":0.77,"u":0.07,"z":-62},{"v":0.805,"u":0.07,"z":-64},{"v":0.84,"u":0.07,"z":-66},{"v":0.875,"u":0.07,"z":-69},{"v":0.91,"u":0.07,"z":-72},{"v":0.945,"u":0.07,"z":-75},
{"v":-0.35,"u":0.035,"z":-64},{"v":-0.315,"u":0.035,"z":-62},{"v":-0.28,"u":0.035,"z":-59},{"v":-0.245,"u":0.035,"z":-57},{"v":-0.21,"u":0.035,"z":-55},{"v":-0.175,"u":0.035,"z":-54},{"v":-0.14,"u":0.035,"z":-57},{"v":-0.105,"u":0.035,"z":-61},{"v":-0.07,"u":0.035,"z":-52},{"v":-0.035,"u":0.035,"z":-51},{"v":0,"u":0.035,"z":-60},{"v":0.035,"u":0.035,"z":-62},{"v":0.07,"u":0.035,"z":-58},{"v":0.105,"u":0.035,"z":-61},{"v":0.14,"u":0.035,"z":-52},{"v":0.175,"u":0.035,"z":-50},{"v":0.21,"u":0.035,"z":-51},{"v":0.245,"u":0.035,"z":-52},{"v":0.28,"u":0.035,"z":-55},{"v":0.315,"u":0.035,"z":-59},{"v":0.35,"u":0.035,"z":-62},{"v":0.385,"u":0.035,"z":-64},{"v":0.42,"u":0.035,"z":-62},{"v":0.455,"u":0.035,"z":-58},{"v":0.49,"u":0.035,"z":-53},{"v":0.525,"u":0.035,"z":-50},{"v":0.56,"u":0.035,"z":-47},{"v":0.595,"u":0.035,"z":-46},{"v":0.63,"u":0.035,"z":-48},{"v":0.665,"u":0.035,"z":-49},{"v":0.70,"u":0.035,"z":-50},{"v":0.735,"u":0.035,"z":-51},{"v":0.77,"u":0.035,"z":-52},{"v":0.805,"u":0.035,"z":-55},{"v":0.84,"u":0.035,"z":-60},{"v":0.875,"u":0.035,"z":-65},{"v":0.91,"u":0.035,"z":-69},{"v":0.945,"u":0.035,"z":-73},
{"v":-0.35,"u":0,"z":-63},{"v":-0.315,"u":0,"z":-60},{"v":-0.28,"u":0,"z":-57},{"v":-0.245,"u":0,"z":-54},{"v":-0.21,"u":0,"z":-52},{"v":-0.175,"u":0,"z":-51},{"v":-0.14,"u":0,"z":-55},{"v":-0.105,"u":0,"z":-60},{"v":-0.07,"u":0,"z":-47},{"v":-0.035,"u":0,"z":-48},{"v":0,"u":0,"z":-58},{"v":0.035,"u":0,"z":-61},{"v":0.07,"u":0,"z":-55},{"v":0.105,"u":0,"z":-60},{"v":0.14,"u":0,"z":-47},{"v":0.175,"u":0,"z":-45.5},{"v":0.21,"u":0,"z":-47},{"v":0.245,"u":0,"z":-49},{"v":0.28,"u":0,"z":-52},{"v":0.315,"u":0,"z":-57},{"v":0.35,"u":0,"z":-60},{"v":0.385,"u":0,"z":-63},{"v":0.42,"u":0,"z":-60},{"v":0.455,"u":0,"z":-55},{"v":0.49,"u":0,"z":-49},{"v":0.525,"u":0,"z":-46},{"v":0.56,"u":0,"z":-43},{"v":0.595,"u":0,"z":-42.5},{"v":0.63,"u":0,"z":-45},{"v":0.665,"u":0,"z":-46},{"v":0.70,"u":0,"z":-47},{"v":0.735,"u":0,"z":-47},{"v":0.77,"u":0,"z":-48},{"v":0.805,"u":0,"z":-52},{"v":0.84,"u":0,"z":-58},{"v":0.875,"u":0,"z":-63},{"v":0.91,"u":0,"z":-67},{"v":0.945,"u":0,"z":-71},
{"v":-0.35,"u":-0.035,"z":-65},{"v":-0.315,"u":-0.035,"z":-63},{"v":-0.28,"u":-0.035,"z":-60},{"v":-0.245,"u":-0.035,"z":-58},{"v":-0.21,"u":-0.035,"z":-56},{"v":-0.175,"u":-0.035,"z":-55},{"v":-0.14,"u":-0.035,"z":-58},{"v":-0.105,"u":-0.035,"z":-61},{"v":-0.07,"u":-0.035,"z":-53},{"v":-0.035,"u":-0.035,"z":-52},{"v":0,"u":-0.035,"z":-60},{"v":0.035,"u":-0.035,"z":-62},{"v":0.07,"u":-0.035,"z":-59},{"v":0.105,"u":-0.035,"z":-61},{"v":0.14,"u":-0.035,"z":-51},{"v":0.175,"u":-0.035,"z":-49},{"v":0.21,"u":-0.035,"z":-50},{"v":0.245,"u":-0.035,"z":-51},{"v":0.28,"u":-0.035,"z":-54},{"v":0.315,"u":-0.035,"z":-58},{"v":0.35,"u":-0.035,"z":-61},{"v":0.385,"u":-0.035,"z":-63},{"v":0.42,"u":-0.035,"z":-62},{"v":0.455,"u":-0.035,"z":-57},{"v":0.49,"u":-0.035,"z":-52},{"v":0.525,"u":-0.035,"z":-49},{"v":0.56,"u":-0.035,"z":-46},{"v":0.595,"u":-0.035,"z":-45},{"v":0.63,"u":-0.035,"z":-47},{"v":0.665,"u":-0.035,"z":-49},{"v":0.70,"u":-0.035,"z":-51},{"v":0.735,"u":-0.035,"z":-53},{"v":0.77,"u":-0.035,"z":-55},{"v":0.805,"u":-0.035,"z":-58},{"v":0.84,"u":-0.035,"z":-62},{"v":0.875,"u":-0.035,"z":-66},{"v":0.91,"u":-0.035,"z":-70},{"v":0.945,"u":-0.035,"z":-74},
{"v":-0.35,"u":-0.07,"z":-68},{"v":-0.315,"u":-0.07,"z":-66},{"v":-0.28,"u":-0.07,"z":-65},{"v":-0.245,"u":-0.07,"z":-63},{"v":-0.21,"u":-0.07,"z":-62},{"v":-0.175,"u":-0.07,"z":-62},{"v":-0.14,"u":-0.07,"z":-62},{"v":-0.105,"u":-0.07,"z":-62},{"v":-0.07,"u":-0.07,"z":-60},{"v":-0.035,"u":-0.07,"z":-59},{"v":0,"u":-0.07,"z":-62},{"v":0.035,"u":-0.07,"z":-64},{"v":0.07,"u":-0.07,"z":-64},{"v":0.105,"u":-0.07,"z":-63},{"v":0.14,"u":-0.07,"z":-56},{"v":0.175,"u":-0.07,"z":-54},{"v":0.21,"u":-0.07,"z":-54},{"v":0.245,"u":-0.07,"z":-55},{"v":0.28,"u":-0.07,"z":-60},{"v":0.315,"u":-0.07,"z":-63},{"v":0.35,"u":-0.07,"z":-65},{"v":0.385,"u":-0.07,"z":-66},{"v":0.42,"u":-0.07,"z":-64},{"v":0.455,"u":-0.07,"z":-61},{"v":0.49,"u":-0.07,"z":-58},{"v":0.525,"u":-0.07,"z":-55},{"v":0.56,"u":-0.07,"z":-52},{"v":0.595,"u":-0.07,"z":-51},{"v":0.63,"u":-0.07,"z":-53},{"v":0.665,"u":-0.07,"z":-55},{"v":0.70,"u":-0.07,"z":-58},{"v":0.735,"u":-0.07,"z":-60},{"v":0.77,"u":-0.07,"z":-62},{"v":0.805,"u":-0.07,"z":-64},{"v":0.84,"u":-0.07,"z":-66},{"v":0.875,"u":-0.07,"z":-69},{"v":0.91,"u":-0.07,"z":-72},{"v":0.945,"u":-0.07,"z":-75},
{"v":-0.35,"u":-0.105,"z":-70},{"v":-0.315,"u":-0.105,"z":-69},{"v":-0.28,"u":-0.105,"z":-67},{"v":-0.245,"u":-0.105,"z":-66},{"v":-0.21,"u":-0.105,"z":-65},{"v":-0.175,"u":-0.105,"z":-65},{"v":-0.14,"u":-0.105,"z":-64},{"v":-0.105,"u":-0.105,"z":-62},{"v":-0.07,"u":-0.105,"z":-60},{"v":-0.035,"u":-0.105,"z":-60},{"v":0,"u":-0.105,"z":-62},{"v":0.035,"u":-0.105,"z":-64},{"v":0.07,"u":-0.105,"z":-65},{"v":0.105,"u":-0.105,"z":-64},{"v":0.14,"u":-0.105,"z":-60},{"v":0.175,"u":-0.105,"z":-57},{"v":0.21,"u":-0.105,"z":-56},{"v":0.245,"u":-0.105,"z":-58},{"v":0.28,"u":-0.105,"z":-62},{"v":0.315,"u":-0.105,"z":-65},{"v":0.35,"u":-0.105,"z":-67},{"v":0.385,"u":-0.105,"z":-68},{"v":0.42,"u":-0.105,"z":-67},{"v":0.455,"u":-0.105,"z":-63},{"v":0.49,"u":-0.105,"z":-60},{"v":0.525,"u":-0.105,"z":-57},{"v":0.56,"u":-0.105,"z":-54},{"v":0.595,"u":-0.105,"z":-53},{"v":0.63,"u":-0.105,"z":-55},{"v":0.665,"u":-0.105,"z":-58},{"v":0.70,"u":-0.105,"z":-61},{"v":0.735,"u":-0.105,"z":-63},{"v":0.77,"u":-0.105,"z":-64},{"v":0.805,"u":-0.105,"z":-66},{"v":0.84,"u":-0.105,"z":-68},{"v":0.875,"u":-0.105,"z":-71},{"v":0.91,"u":-0.105,"z":-74},{"v":0.945,"u":-0.105,"z":-77}
],
"centre":[{"v":0,"u":0}],
"edge":[{"v":1,"u":1}],
"sources":[{"v":-0.06,"u":0.01},{"v":0.16,"u":0.01},{"v":0.58,"u":0.01}]
},
"encoding":{
"x":{"field":"v","type":"quantitative","scale":{"domain":[-1,1],"nice":false,"zero":false},"axis":{"title":"V","zindex":1,"values":[-1,-0.5,0,0.5],"format":"~g","grid":false,"tickSize":-5,"tickColor":"#404040","domainColor":"#8c8c8c","labelFont":"Liberation Sans","labelFontSize":20,"labelColor":"#262626","labelPadding":17,"titleFont":"Liberation Serif","titleFontSize":20,"titleFontWeight":"normal","titleColor":"#262626","titlePadding":6}},
"y":{"field":"u","type":"quantitative","scale":{"domain":[-1,1],"nice":false,"zero":false},"axis":{"title":"U","zindex":1,"values":[-1,-0.5,0,0.5],"format":"~g","grid":false,"tickSize":-5,"tickColor":"#404040","domainColor":"#8c8c8c","labelFont":"Liberation Sans","labelFontSize":20,"labelColor":"#262626","labelPadding":14,"titleFont":"Liberation Serif","titleFontSize":20,"titleFontWeight":"normal","titleColor":"#262626","titlePadding":14}}
},
"layer":[
{"data":{"name":"coarse"},"mark":{"type":"rect","width":14,"height":14,"clip":true},"encoding":{"color":{"field":"z","type":"quantitative","scale":{"domain":[-88,-82.2,-70.7,-59.2,-47.6,-41.85],"range":["#00008f","#0000ff","#00ffff","#ffff00","#ff0000","#800000"]},"legend":{"title":null,"orient":"none","legendX":394,"legendY":0,"gradientLength":381,"gradientThickness":31,"gradientStrokeColor":"#555555","gradientStrokeWidth":1,"values":[-85,-80,-75,-70,-65,-60,-55,-50,-45],"labelFont":"Liberation Sans","labelFontSize":20,"labelColor":"#262626","labelOffset":6,"labelOverlap":false}}}},
{"data":{"name":"striped"},"mark":{"type":"rect","width":14,"height":7.2,"clip":true},"encoding":{"color":{"field":"z","type":"quantitative","scale":{"domain":[-88,-82.2,-70.7,-59.2,-47.6,-41.85],"range":["#00008f","#0000ff","#00ffff","#ffff00","#ff0000","#800000"]}}}},
{"data":{"name":"fine"},"mark":{"type":"rect","width":7.2,"height":7.2,"clip":true},"encoding":{"color":{"field":"z","type":"quantitative","scale":{"domain":[-88,-82.2,-70.7,-59.2,-47.6,-41.85],"range":["#00008f","#0000ff","#00ffff","#ffff00","#ff0000","#800000"]}}}},
{"data":{"name":"centre"},"mark":{"type":"point","filled":false,"stroke":"white","strokeWidth":60,"opacity":1,"size":192721,"clip":true}},
{"data":{"name":"edge"},"mark":{"type":"rule","stroke":"#8c8c8c","strokeWidth":1},"encoding":{"y":null}},
{"data":{"name":"edge"},"mark":{"type":"rule","stroke":"#8c8c8c","strokeWidth":1},"encoding":{"x":null}},
{"data":{"name":"sources"},"mark":{"type":"point","filled":false,"shape":"M-1,-1L1,1M-1,1L1,-1","stroke":"#f4f4f4","strokeWidth":0.8,"opacity":1,"size":150}}
]
}
